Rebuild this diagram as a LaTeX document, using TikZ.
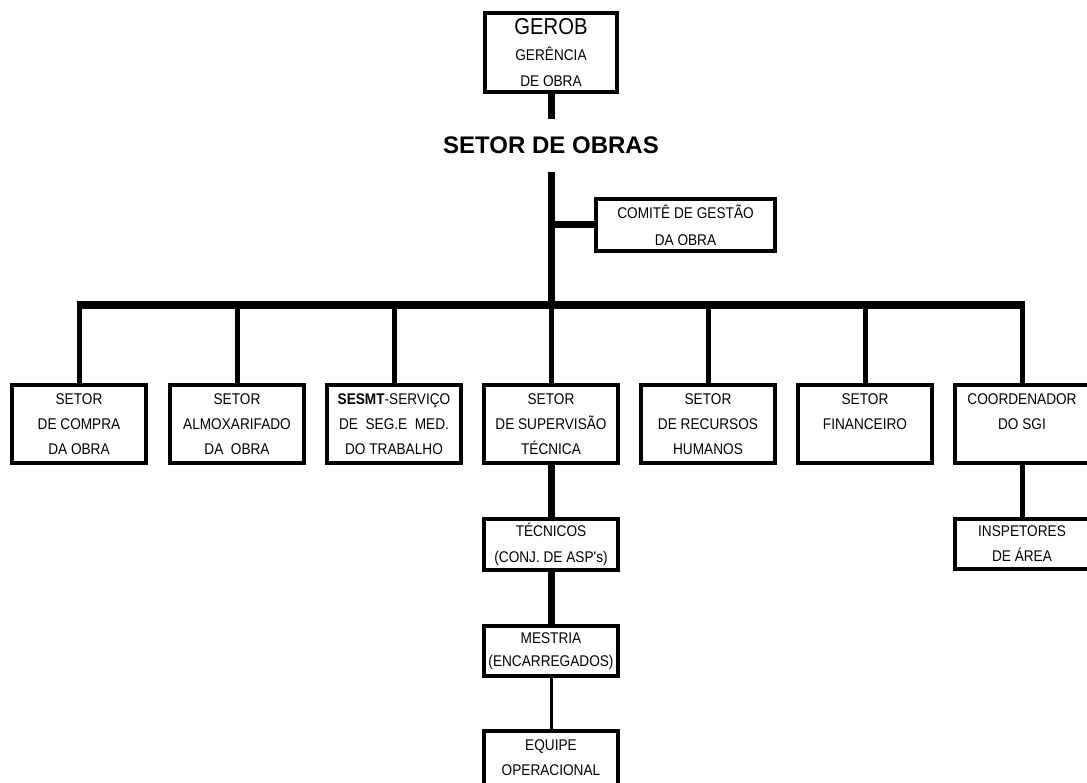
\documentclass[tikz,border=0pt]{standalone}
\usepackage{fontspec}
\setmainfont{Liberation Sans}
\newfontfamily\narrowfont[FakeStretch=0.88]{Liberation Sans}
\usepackage{tikz}
\usetikzlibrary{calc}
\newcommand{\BusY}{305}
\tikzset{
  unitBox/.style={draw, line width=3.5pt, minimum width=134pt, minimum height=78pt,
    inner sep=0pt, align=center, font=\narrowfont\fontsize{15.5}{25}\selectfont},
  lowBox/.style={unitBox, minimum height=51pt},  % lower chain boxes
  busLine/.style={line width=8pt},
  trunk/.style={line width=7pt},
  dropLine/.style={line width=5pt},
  thinLink/.style={line width=3pt}
}

\begin{document}
\begin{tikzpicture}[x=1pt,y=-1pt]
  \useasboundingbox (0,0) rectangle (1087,783);
  % top of the chart
  \node[unitBox, minimum width=132pt, minimum height=79pt, font=\narrowfont\fontsize{15.5}{26}\selectfont]
    (gerob) at (551,52.5) {{\fontsize{23}{26}\selectfont GEROB}\\GERÊNCIA\\DE OBRA};
  \node[inner sep=0pt, minimum height=53pt, font=\bfseries\fontsize{24}{24}\selectfont]
    (setor) at (551,145.5) {SETOR DE OBRAS};
  \node[unitBox, minimum width=179pt, minimum height=52pt, font=\narrowfont\fontsize{15.5}{27}\selectfont]
    (comite) at (685.5,225) {COMITÊ DE GESTÃO\\DA OBRA};
  \coordinate (bus) at (551,\BusY);
  % sectors under the bus
  \node[unitBox] (compra) at (79,424)   {SETOR\\DE COMPRA\\DA OBRA};
  \node[unitBox] (almox)  at (237,424)  {SETOR\\ALMOXARIFADO\\DA~~OBRA};
  \node[unitBox] (sesmt)  at (394,424)  {\textbf{SESMT}-SERVIÇO\\DE~~SEG.E~~MED.\\DO TRABALHO};
  \node[unitBox] (superv) at (551,424)  {SETOR\\DE SUPERVISÃO\\TÉCNICA};
  \node[unitBox] (rh)     at (708,424)  {SETOR\\DE RECURSOS\\HUMANOS};
  \node[unitBox] (fin)    at (865,424)  {SETOR\\FINANCEIRO\\\mbox{}};
  \node[unitBox] (coord)  at (1022,424) {COORDENADOR\\DO SGI\\\mbox{}};
  % lower chain
  \node[lowBox, font=\narrowfont\fontsize{15.5}{26}\selectfont]
    (tecnicos) at (551,544.5) {TÉCNICOS\\(CONJ. DE ASP's)};
  \node[lowBox, minimum height=50pt, font=\narrowfont\fontsize{15.5}{23}\selectfont]
    (mestria) at (551,651) {MESTRIA\\(ENCARREGADOS)};
  \node[lowBox, minimum height=54pt] (equipe) at (551,758) {EQUIPE\\OPERACIONAL};
  \node[lowBox, minimum height=50pt] (inspetores) at (1022,544) {INSPETORES\\DE ÁREA};
  % connectors
  \draw[trunk] (gerob.south) -- (setor.north);
  \draw[trunk] (setor.south) -- (bus);
  \draw[trunk] (comite.west) -- (comite.west -| bus);
  \draw[busLine] ($(compra.north |- bus)+(-2.5,0)$) -- ($(coord.north |- bus)+(2.5,0)$);
  \foreach \n in {compra,almox,sesmt,superv,rh,fin,coord}
    \draw[dropLine] (\n.north) -- (\n.north |- bus);
  \draw[trunk] (superv.south) -- (tecnicos.north);
  \draw[trunk] (tecnicos.south) -- (mestria.north);
  \draw[thinLink] (mestria.south) -- (equipe.north);
  \draw[dropLine] (coord.south) -- (inspetores.north);
\end{tikzpicture}
\end{document}
